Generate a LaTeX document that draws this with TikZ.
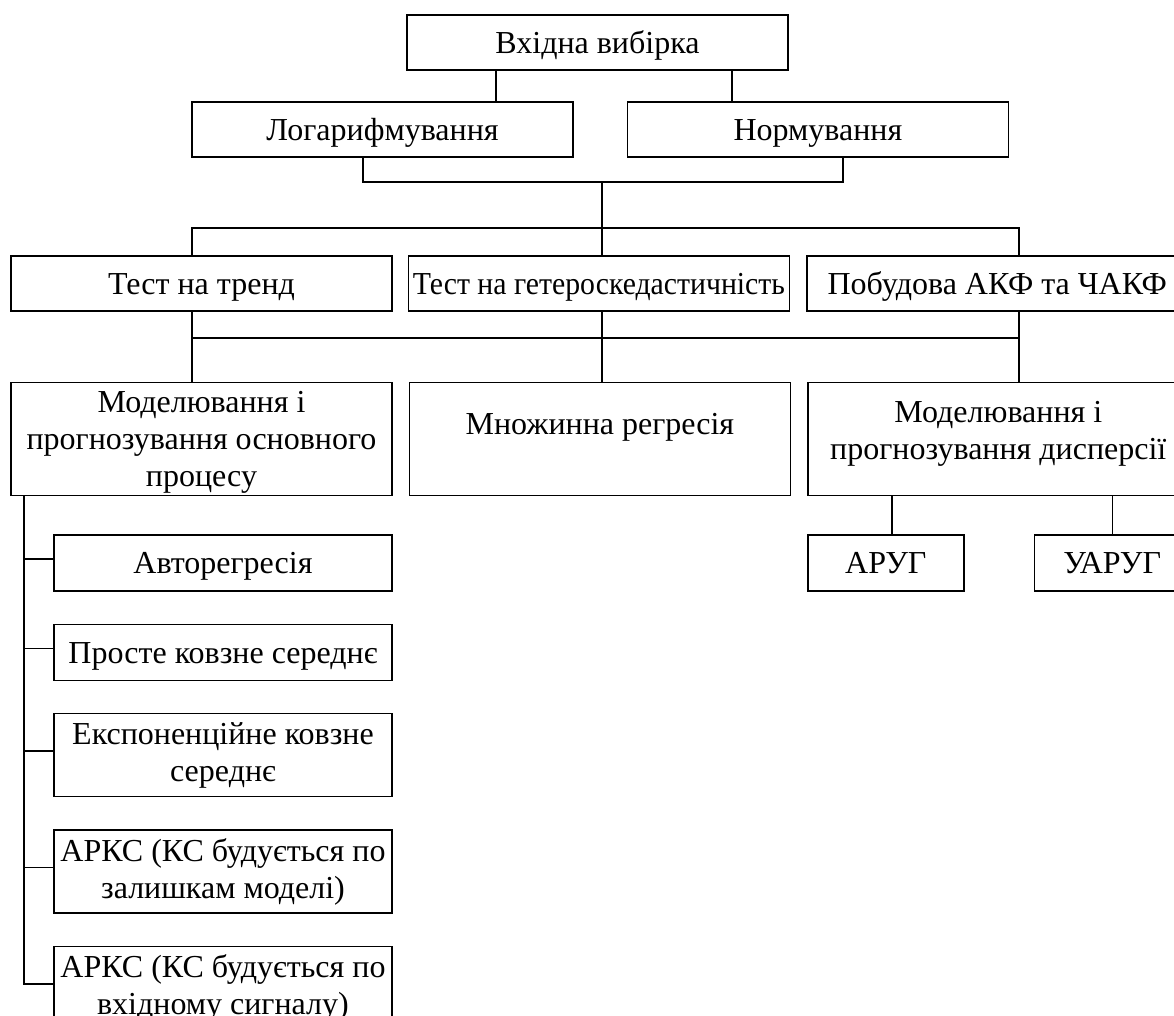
\documentclass[tikz,border=0pt]{standalone}
\usepackage{fontspec}
\setmainfont{Liberation Serif}
\usetikzlibrary{positioning}

\begin{document}
\begin{tikzpicture}[x=0.5pt, y=-0.5pt, line width=0.7pt,
  font=\fontsize{16pt}{18.5pt}\selectfont,
  box/.style={draw, rectangle, inner sep=0pt, minimum width=190.5pt, minimum height=27.5pt, text height=11pt, text depth=0pt},
  tallbox/.style={draw, rectangle, inner sep=0pt, minimum width=190.5pt, minimum height=56.5pt, align=center},
  sub/.style={draw, rectangle, inner sep=0pt, minimum width=169pt, minimum height=28pt, text height=11pt, text depth=0pt},
  subtwo/.style={draw, rectangle, inner sep=0pt, minimum width=169pt, minimum height=41.5pt, align=center},
  small/.style={draw, rectangle, inner sep=0pt, minimum width=78pt, minimum height=28pt, text height=11pt, text depth=0pt}]
\useasboundingbox (0,0) rectangle (1174,1016);
\clip (0,0) rectangle (1174,1016);
% input and preprocessing
\node[box] (vx) at (597.5,42.5) {Вхідна вибірка};
\node[box] (log) at (382.5,129.5) {Логарифмування};
\node[box, right=26.5pt of log] (norm) {Нормування};
% tests
\node[box] (trend) at (201.5,283.5) {Тест на тренд};
\node[box, right=7.5pt of trend] (het) {\scalebox{0.93}[1]{Тест на гетероскедастичність}};
\node[box, right=8pt of het] (acf) {Побудова АКФ та ЧАКФ};
% models
\node[tallbox, below=35pt of trend] (mod) {\rule{0pt}{14.5pt}Моделювання і\\прогнозування основного\\процесу};
\node[tallbox, right=8pt of mod, text height=0pt, text depth=4.5pt] (mr) {Множинна регресія};
\node[tallbox, right=8pt of mr] (disp) {Моделювання і\\прогнозування дисперсії\rule[-8pt]{0pt}{8pt}};
\node[small, below=19pt of disp.south west, anchor=north west] (arug) {АРУГ};
\node[small, right=34.5pt of arug] (uarug) {УАРУГ};
% methods of the main process
\node[sub, below=19pt of mod.south east, anchor=north east] (ar) {Авторегресія};
\node[sub, below=16pt of ar] (sma) {Просте ковзне середнє};
\node[subtwo, below=16pt of sma] (ema) {Експоненційне ковзне\\середнє};
\node[subtwo, below=16pt of ema] (arks1) {АРКС (КС будується по\\залишкам моделі)};
\node[subtwo, below=16pt of arks1] (arks2) {АРКС (КС будується по\\вхідному сигналу)};
% connectors
\draw (496,0 |- vx.south) -- (496,0 |- log.north);
\draw (732,0 |- vx.south) -- (732,0 |- norm.north);
\coordinate (j1) at (602,182);
\draw (363,0 |- log.south) |- (j1) -| (843,0 |- norm.south);
\draw (j1) -- (602,0 |- het.north);
\draw (trend.north -| 192,0) |- (j1 |- 0,228) -| (acf.north -| 1019,0);
\draw (trend.south -| 192,0) -- (mod.north -| 192,0);
\draw (het.south -| 602,0) -- (mr.north -| 602,0);
\draw (acf.south -| 1019,0) -- (disp.north -| 1019,0);
\draw (192,338) -- (1019,338);
\draw (892,0 |- disp.south) -- (892,0 |- arug.north);
\draw (uarug.north |- disp.south) -- (uarug.north);
\draw (mod.south -| 24,0) |- ([yshift=2pt]arks2.west);
\foreach \n in {ar,sma,ema,arks1} \draw (24,0 |- \n.west) ++(0,-4) -- ([yshift=2pt]\n.west);
\end{tikzpicture}
\end{document}
